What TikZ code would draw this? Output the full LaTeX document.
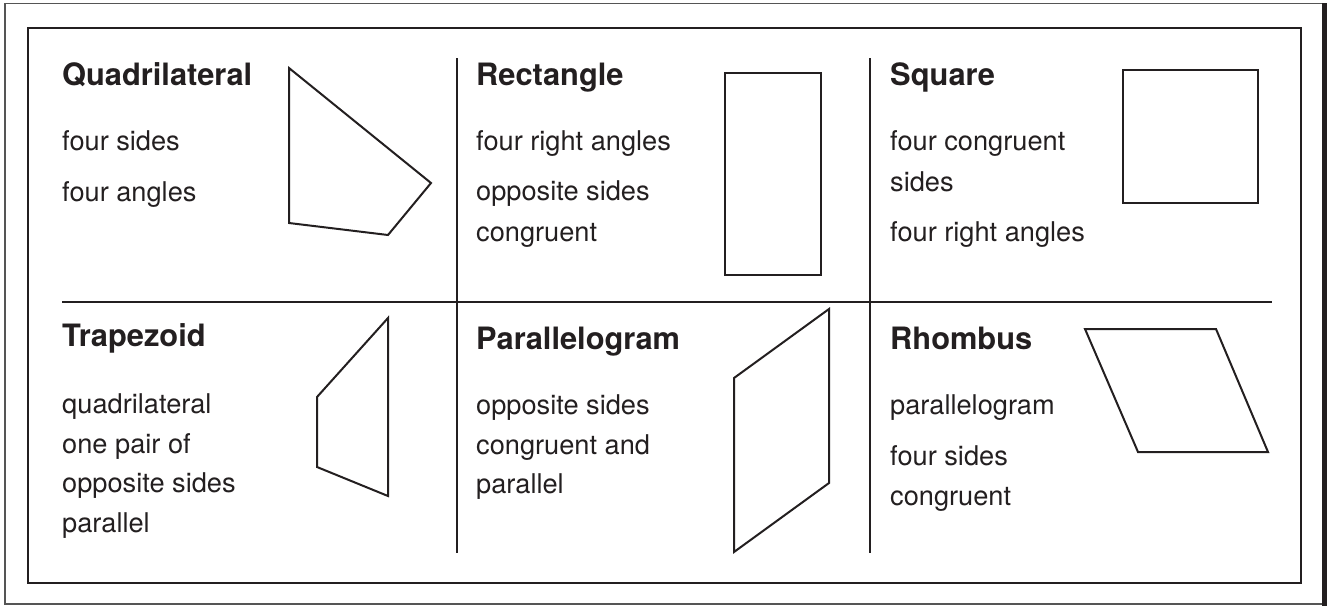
\documentclass[tikz,border=0pt]{standalone}
\usepackage{fontspec}
\setmainfont{TeX Gyre Heros}
\definecolor{ink}{HTML}{231F20}
\definecolor{framegray}{HTML}{555555}
\begin{document}
\begin{tikzpicture}[x=1pt,y=-1pt,
  title/.style={anchor=base west, inner sep=0pt, font=\fontsize{30.8}{36}\selectfont\bfseries, text=ink},
  body/.style={anchor=base west, inner sep=0pt, font=\fontsize{27.2}{32}\selectfont, text=ink},
  fig/.style={draw=ink, line width=2pt, line join=miter},
  divider/.style={draw=ink, line width=2.2pt}]
\useasboundingbox (0,0) rectangle (1327,606);
% frames
\draw[framegray, line width=1.2pt] (5,3.5) rectangle (1323,604);
\draw[ink, line width=4.5pt] (1324.5,3) -- (1324.5,606);
\draw[ink, line width=1.6pt] (28,28) rectangle (1301,583);
% dividers
\draw[divider] (62,302) -- (1272,302);
\draw[divider] (457,58) -- (457,553);
\draw[divider] (870,58) -- (870,553);
% Quadrilateral
\node[title] (tq) at (62,85) {Quadrilateral};
\node[body] (q1) at (62,150) {four sides};
\node[body] (q2) at (62,201) {four angles};
\draw[fig] (289,68) -- (431,183) -- (388,235) -- (289,223) -- cycle;
% Rectangle
\node[title] (tr) at (476,85) {Rectangle};
\node[body] (r1) at (476,150) {four right angles};
\node[body] (r2) at (476,200) {opposite sides};
\node[body] (r3) at (476,241) {congruent};
\draw[fig] (725,73) rectangle (821,275);
% Square
\node[title] (ts) at (890,85) {Square};
\node[body] (s1) at (890,150) {four congruent};
\node[body] (s2) at (890,191) {sides};
\node[body] (s3) at (890,241) {four right angles};
\draw[fig] (1123,70) rectangle (1258,203);
% Trapezoid
\node[title] (tt) at (62,346) {Trapezoid};
\node[body] (t1) at (62,413) {quadrilateral};
\node[body] (t2) at (62,453) {one pair of};
\node[body] (t3) at (62,492) {opposite sides};
\node[body] (t4) at (62,532) {parallel};
\draw[fig] (388,318) -- (317,397) -- (317,467) -- (388,496) -- cycle;
% Parallelogram
\node[title] (tp) at (476,349) {Parallelogram};
\node[body] (p1) at (476,414) {opposite sides};
\node[body] (p2) at (476,454) {congruent and};
\node[body] (p3) at (476,493) {parallel};
\draw[fig] (829,309) -- (734,378) -- (734,552) -- (829,483) -- cycle;
% Rhombus
\node[title] (th) at (890,349) {Rhombus};
\node[body] (h1) at (890,414) {parallelogram};
\node[body] (h2) at (890,465) {four sides};
\node[body] (h3) at (890,505) {congruent};
\draw[fig] (1085,329) -- (1216,329) -- (1268,452) -- (1138,452) -- cycle;
\end{tikzpicture}
\end{document}
